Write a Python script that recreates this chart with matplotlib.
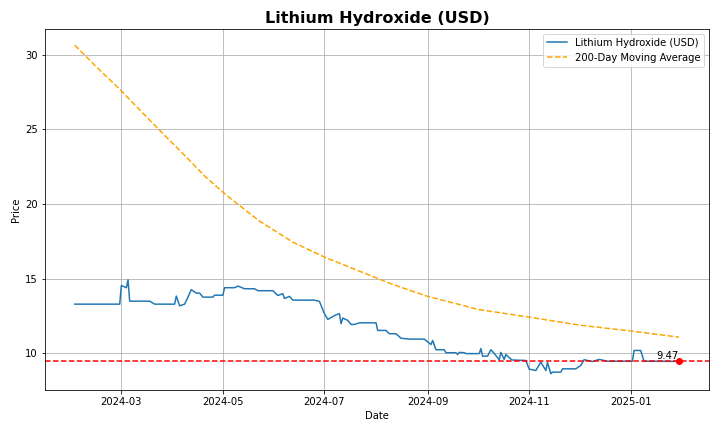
import pandas as pd
import matplotlib
matplotlib.use("Agg")
import matplotlib.pyplot as plt


# price breakpoints
price_dates = [
    "2024-02-02", "2024-02-29", "2024-03-01", "2024-03-04", "2024-03-05", "2024-03-06",
    "2024-03-18", "2024-03-21", "2024-04-02", "2024-04-03", "2024-04-05", "2024-04-08",
    "2024-04-10", "2024-04-12", "2024-04-15", "2024-04-17", "2024-04-19", "2024-04-25",
    "2024-04-26", "2024-05-01", "2024-05-02", "2024-05-08", "2024-05-10", "2024-05-14",
    "2024-05-20", "2024-05-22", "2024-05-31", "2024-06-03", "2024-06-06", "2024-06-07",
    "2024-06-10", "2024-06-12", "2024-06-25", "2024-06-28", "2024-07-01", "2024-07-03",
    "2024-07-08", "2024-07-10", "2024-07-11", "2024-07-12", "2024-07-15", "2024-07-17",
    "2024-07-19", "2024-07-22", "2024-08-01", "2024-08-02", "2024-08-07", "2024-08-09",
    "2024-08-13", "2024-08-16", "2024-08-21", "2024-08-30", "2024-09-03", "2024-09-04",
    "2024-09-06", "2024-09-11", "2024-09-12", "2024-09-18", "2024-09-19", "2024-09-20",
    "2024-09-23", "2024-09-24", "2024-10-02", "2024-10-03", "2024-10-04", "2024-10-07",
    "2024-10-09", "2024-10-11", "2024-10-14", "2024-10-15", "2024-10-17", "2024-10-18",
    "2024-10-21", "2024-10-22", "2024-10-30", "2024-11-01", "2024-11-05", "2024-11-08",
    "2024-11-11", "2024-11-12", "2024-11-14", "2024-11-15", "2024-11-20", "2024-11-21",
    "2024-11-29", "2024-12-02", "2024-12-04", "2024-12-09", "2024-12-13", "2024-12-18",
    "2025-01-02", "2025-01-03", "2025-01-07", "2025-01-09", "2025-01-30",
]
price_values = [
    13.30, 13.30, 14.55, 14.40, 14.93, 13.50,
    13.50, 13.30, 13.30, 13.84, 13.19, 13.30,
    13.77, 14.27, 14.04, 14.04, 13.77, 13.77,
    13.90, 13.90, 14.40, 14.40, 14.51, 14.33,
    14.33, 14.20, 14.20, 13.88, 14.00, 13.68,
    13.82, 13.57, 13.57, 13.48, 12.66, 12.28,
    12.59, 12.66, 11.99, 12.37, 12.21, 11.94,
    11.94, 12.05, 12.05, 11.54, 11.54, 11.32,
    11.32, 11.02, 10.96, 10.96, 10.60, 10.87,
    10.25, 10.25, 10.05, 10.05, 9.93, 10.07,
    10.05, 9.99, 9.99, 10.33, 9.82, 9.82,
    10.25, 10.00, 9.58, 10.07, 9.60, 9.93,
    9.62, 9.56, 9.53, 8.95, 8.86, 9.42,
    8.86, 9.40, 8.64, 8.75, 8.75, 8.97,
    8.97, 9.20, 9.58, 9.46, 9.60, 9.48,
    9.48, 10.20, 10.20, 9.48, 9.47,
]

ma_dates = [
    "2024-02-02", "2024-02-15", "2024-03-01", "2024-03-22", "2024-04-08", "2024-04-20",
    "2024-05-02", "2024-05-16", "2024-05-23", "2024-06-12", "2024-07-01", "2024-07-22",
    "2024-08-11", "2024-09-01", "2024-09-20", "2024-10-01", "2024-11-01", "2024-12-01",
    "2025-01-02", "2025-01-30",
]
ma_values = [
    30.63, 29.18, 27.57, 25.16, 23.26, 21.88,
    20.70, 19.46, 18.86, 17.45, 16.45, 15.51,
    14.62, 13.82, 13.28, 12.95, 12.43, 11.90,
    11.49, 11.09,
]

dates = pd.to_datetime(price_dates)
ma_dt = pd.to_datetime(ma_dates)
last_price = price_values[-1]

fig = plt.figure(figsize=(10, 6), dpi=72)
plt.plot(dates, price_values, label="Lithium Hydroxide (USD)")
plt.plot(ma_dt, ma_values, label="200-Day Moving Average", linestyle="--", color="orange")
plt.axhline(last_price, color="red", linestyle="--")
plt.scatter(dates[-1], last_price, color="red", zorder=5)
plt.text(dates[-1], last_price, f"{last_price:.2f}", ha="right", va="bottom")

plt.title("Lithium Hydroxide (USD)", fontsize=16, fontweight="bold")
plt.xlabel("Date")
plt.ylabel("Price")
plt.legend(loc="upper right")
plt.grid(True)
plt.tight_layout()
plt.savefig("out.png", dpi=72)
